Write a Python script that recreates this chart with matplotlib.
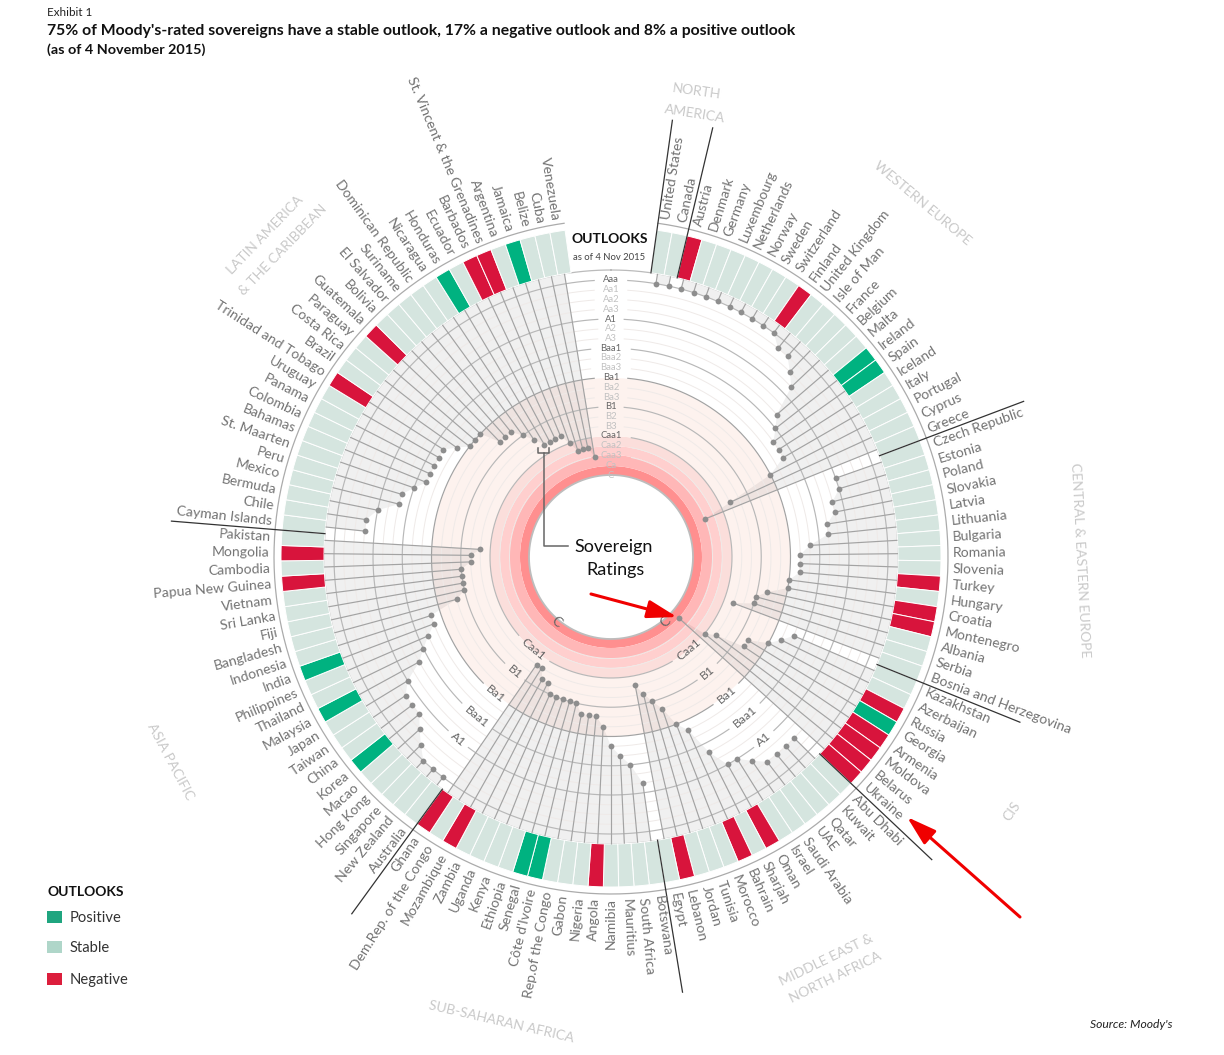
import numpy as np
import matplotlib
matplotlib.use('Agg')
import matplotlib.pyplot as plt
from matplotlib.patches import FancyArrowPatch, Rectangle
from matplotlib.lines import Line2D

# regions, clockwise from the top
north_america = ['United States', 'Canada']
western_europe = ['Austria', 'Denmark', 'Germany', 'Luxembourg', 'Netherlands', 'Norway', 'Sweden',
                  'Switzerland', 'Finland', 'United Kingdom', 'Isle of Man', 'France', 'Belgium', 'Malta',
                  'Ireland', 'Spain', 'Iceland', 'Italy', 'Portugal', 'Cyprus', 'Greece']
eastern_europe = ['Czech Republic', 'Estonia', 'Poland', 'Slovakia', 'Latvia', 'Lithuania', 'Bulgaria',
                  'Romania', 'Slovenia', 'Turkey', 'Hungary', 'Croatia', 'Montenegro', 'Albania', 'Serbia',
                  'Bosnia and Herzegovina']
cis = ['Kazakhstan', 'Azerbaijan', 'Russia', 'Georgia', 'Armenia', 'Moldova', 'Belarus', 'Ukraine']
mena = ['Abu Dhabi', 'Kuwait', 'Qatar', 'UAE', 'Saudi Arabia', 'Israel', 'Oman', 'Sharjah', 'Bahrain',
        'Morocco', 'Tunisia', 'Jordan', 'Lebanon', 'Egypt']
africa = ['Botswana', 'South Africa', 'Mauritius', 'Namibia', 'Angola', 'Nigeria', 'Gabon',
          'Rep.of the Congo', "Côte d'Ivoire", 'Senegal', 'Ethiopia', 'Kenya', 'Uganda', 'Zambia',
          'Mozambique', 'Dem.Rep. of the Congo', 'Ghana']
asia = ['Australia', 'New Zealand', 'Singapore', 'Hong Kong', 'Macao', 'Korea', 'China', 'Taiwan', 'Japan',
        'Malaysia', 'Thailand', 'Philippines', 'India', 'Indonesia', 'Bangladesh', 'Fiji', 'Sri Lanka',
        'Vietnam', 'Papua New Guinea', 'Cambodia', 'Mongolia', 'Pakistan']
latam = ['Cayman Islands', 'Chile', 'Bermuda', 'Mexico', 'Peru', 'St. Maarten', 'Bahamas', 'Colombia',
         'Panama', 'Uruguay', 'Trinidad and Tobago', 'Brazil', 'Costa Rica', 'Paraguay', 'Guatemala',
         'Bolivia', 'El Salvador', 'Suriname', 'Dominican Republic', 'Nicaragua', 'Honduras', 'Ecuador',
         'Barbados', 'St. Vincent & the Grenadines', 'Argentina', 'Jamaica', 'Belize', 'Cuba', 'Venezuela']

north_america_r = [20, 20]
western_europe_r = [20, 20, 20, 20, 20, 20, 20, 20, 20, 19, 19, 18, 17, 14, 13, 12, 12, 12, 10, 5, 2]
eastern_europe_r = [16, 16, 15, 15, 14, 14, 12, 11, 11, 11, 10, 10, 8, 7, 7, 5]
cis_r = [12, 11, 10, 8, 8, 5, 4, 1]
mena_r = [18, 18, 18, 18, 17, 16, 16, 14, 11, 10, 8, 7, 6, 5]
africa_r = [15, 13, 12, 11, 9, 8, 8, 8, 7, 7, 7, 7, 7, 6, 6, 5, 5]
asia_r = [20, 20, 20, 19, 18, 17, 17, 17, 16, 14, 13, 12, 11, 11, 8, 7, 7, 7, 7, 6, 6, 5]
latam_r = [17, 17, 16, 14, 14, 13, 12, 12, 12, 12, 12, 11, 10, 10, 10, 8, 8, 8, 7, 6, 5, 5, 5, 5, 4, 3, 3, 3, 2]

regions = [north_america, western_europe, eastern_europe, cis, mena, africa, asia, latam]
region_ratings = [north_america_r, western_europe_r, eastern_europe_r, cis_r, mena_r, africa_r, asia_r, latam_r]

negative = ['Austria', 'Finland', 'Turkey', 'Croatia', 'Montenegro', 'Russia', 'Armenia', 'Moldova', 'Belarus',
            'Ukraine', 'Oman', 'Bahrain', 'Lebanon', 'Angola', 'Mozambique', 'Ghana', 'Papua New Guinea',
            'Mongolia', 'Trinidad and Tobago', 'Guatemala', 'Barbados', 'St. Vincent & the Grenadines']
positive = ['Ireland', 'Spain', 'Georgia', "Côte d'Ivoire", 'Senegal', 'Korea', 'Malaysia', 'India',
            'Honduras', 'Jamaica']

rating_labels = ['C', 'Ca', 'Caa3', 'Caa2', 'Caa1', 'B3', 'B2', 'B1', 'Ba3', 'Ba2', 'Ba1', 'Baa3', 'Baa2',
                 'Baa1', 'A3', 'A2', 'A1', 'Aa3', 'Aa2', 'Aa1', 'Aaa']
major_ratings = ['Caa1', 'B1', 'Ba1', 'Baa1', 'A1', 'Aaa']
side_ratings = ['Caa1', 'B1', 'Ba1', 'Baa1', 'A1']

W, H = 1224, 1055
CX, CY = 611, 557
R = 520
STEP = 360 / 135
START = 8


def rr(n):
    return 82 + 9.75 * np.asarray(n, dtype=float)


def fx(x):
    return x / W


def fy(y):
    return 1 - y / H


fig = plt.figure(figsize=(W / 100, H / 100), dpi=100, facecolor='white')
plt.rcParams['font.family'] = ['Lato', 'DejaVu Sans']
ax = fig.add_axes([(CX - R) / W, (H - CY - R) / H, 2 * R / W, 2 * R / H], projection='polar')
ax.set_theta_zero_location('N')
ax.set_theta_direction(-1)
ax.set_rlim(0, R)
ax.axis('off')

# pink rings
band_edges = [82, 91, 102, 111, 121, 179]
band_colors = ['#FF8F8F', '#FFB7B7', '#FFCFCE', '#FBDEDB', '#FDF2EE']
for i, c in enumerate(band_colors):
    ax.bar(0, band_edges[i + 1] - band_edges[i], width=2 * np.pi, bottom=band_edges[i], color=c, lw=0, zorder=1)

slot = 0
names, thetas = [], []
for reg, vals in zip(regions, region_ratings):
    th = np.radians(START + (slot + 0.5 + np.arange(len(reg))) * STEP)
    r = rr(vals)
    # grey area under the dots of one region
    back = np.linspace(th[-1], th[0], 40)
    ax.fill(np.r_[th, back], np.r_[r, np.full(40, 287)], color='black', alpha=0.06, lw=0, zorder=2)
    ax.vlines(th, r, 287, color='#A3A3A3', lw=0.85, zorder=4)
    ax.plot(th, r, 'o', color='#8E8E8E', ms=4.2, mew=0, zorder=5)
    # region divider
    edge = np.radians(START + slot * STEP)
    ax.plot([edge, edge], [287, 441], color='#333333', lw=0.9, zorder=6)
    names += reg
    thetas += list(th)
    slot += len(reg)


def arc(r, gaps, **kw):
    # ring broken where labels sit, gaps = (centre deg, half width px)
    spans = sorted((a - np.degrees(g / r), a + np.degrees(g / r)) for a, g in gaps)
    cur = spans[0][1]
    for lo, hi in spans[1:] + [(spans[0][0] + 360, 0)]:
        ax.plot(np.radians(np.linspace(cur, lo, 300)), np.full(300, r), **kw)
        cur = hi


for n, lab in enumerate(rating_labels):
    major = lab in major_ratings
    r = rr(n)
    if n >= 2:
        half = 6 + 3.6 * len(lab)
        gaps = [(0, half)]
        if lab in side_ratings:
            gaps += [(140, half), (220, half)]
        if lab == 'Ba1':
            col = '#A2A2A2'
        elif major:
            col = '#B8B8B8'
        else:
            col = '#EFEAE8'
        arc(r, gaps, color=col, lw=0.85 if major else 0.7, zorder=3)
    ax.text(0, r, lab, ha='center', va='center', fontsize=6.8, color='#666666' if major else '#C2C2C2', zorder=7)
    if lab in side_ratings or lab == 'C':
        off = 3 if lab == 'C' else 0
        fs = 10 if lab == 'C' else 8.8
        ax.text(np.radians(140), r + off, lab, rotation=40, ha='center', va='center',
                rotation_mode='anchor', fontsize=fs, color='#666666', zorder=7)
        ax.text(np.radians(220), r + off, lab, rotation=-40, ha='center', va='center',
                rotation_mode='anchor', fontsize=fs, color='#666666', zorder=7)

ring = np.linspace(0, 2 * np.pi, 720)
ax.plot(ring, np.full(720, 82), color='#BDBDBD', lw=1.3, zorder=3)
ax.plot(ring, np.full(720, 287), color='#BBBBBB', lw=0.9, zorder=3)
outer = np.radians(np.linspace(START, 360 - START, 600))
ax.plot(outer, np.full(600, 337), color='#ABABAB', lw=0.9, zorder=3)

# outlook bars
colors = ['#D8143C' if c in negative else '#00B280' if c in positive else '#D5E5DF' for c in names]
ax.bar(thetas, 43, width=np.radians(STEP), bottom=287, color=colors, edgecolor='white', lw=0.7, zorder=3)
ax.set_rlim(0, R)

# country names
for name, th in zip(names, thetas):
    deg = np.degrees(th)
    if deg < 180:
        ax.text(th, 342, name, rotation=90 - deg, rotation_mode='anchor', ha='left', va='center',
                fontsize=10.1, color='#737373', zorder=7)
    else:
        ax.text(th, 341, name, rotation=270 - deg, rotation_mode='anchor', ha='right', va='center',
                fontsize=10.1, color='#737373', zorder=7)

# region names
region_text = [('NORTH', 697, 91, -8), ('AMERICA', 695, 114, -9), ('WESTERN EUROPE', 922, 203, -40),
               ('CENTRAL & EASTERN EUROPE', 1080, 560, -87), ('CIS', 1012, 811, 55),
               ('MIDDLE EAST &', 826, 960, 26), ('NORTH AFRICA', 835, 977, 26),
               ('SUB-SAHARAN AFRICA', 501, 1022, -13), ('ASIA PACIFIC', 170, 762, -62),
               ('LATIN AMERICA', 265, 235, 46), ('& THE CARIBBEAN', 283, 250, 46)]
for t, x, y, rot in region_text:
    fig.text(fx(x), fy(y), t, rotation=rot, rotation_mode='anchor', ha='center', va='center',
             fontsize=10, color='#C9C9C9')

fig.text(fx(610), fy(239), 'OUTLOOKS', ha='center', va='center', fontsize=10, fontweight='bold', color='#111111')
fig.text(fx(609), fy(257), 'as of 4 Nov 2015', ha='center', va='center', fontsize=6.8, color='#444444')

# centre note and bracket
for xs, ys in [([538, 538, 549, 549], [448, 453, 453, 448]), ([543.5, 543.5, 568], [453, 546, 546])]:
    fig.add_artist(Line2D([fx(v) for v in xs], [fy(v) for v in ys], color='#666666', lw=1.1))
fig.text(fx(614), fy(547), 'Sovereign', ha='center', va='center', fontsize=13, color='#111111')
fig.text(fx(616), fy(570), 'Ratings', ha='center', va='center', fontsize=13, color='#111111')

# red arrows
for p0, p1 in [((591, 594), (677, 617)), ((1020, 917), (907, 817))]:
    fig.add_artist(FancyArrowPatch((fx(p0[0]), fy(p0[1])), (fx(p1[0]), fy(p1[1])), transform=fig.transFigure,
                                   arrowstyle='-|>,head_length=18,head_width=5.5', color='#F00000', lw=2.2,
                                   shrinkA=0, shrinkB=0, zorder=20))

# heading
fig.text(fx(47), fy(12), 'Exhibit 1', va='center', fontsize=8.4, color='#222222')
fig.text(fx(47), fy(31), "75% of Moody's-rated sovereigns have a stable outlook, 17% a negative outlook and 8% a positive outlook",
         va='center', fontsize=11.3, fontweight='bold', color='#111111')
fig.text(fx(47), fy(50), '(as of 4 November 2015)', va='center', fontsize=10.4, fontweight='bold', color='#111111')
fig.text(fx(1173), fy(1024), "Source: Moody's", ha='right', va='center', fontsize=8.7, style='italic', color='#222222')

# legend
legend_labels = ['Positive', 'Stable', 'Negative']
legend_colors = ['#1FA57F', '#AFD6C9', '#DC1E3C']
legend_y = [917, 947, 979]
fig.text(fx(47), fy(892), 'OUTLOOKS', va='center', fontsize=10, fontweight='bold', color='#111111')
for lab, c, y in zip(legend_labels, legend_colors, legend_y):
    fig.add_artist(Rectangle((fx(47), fy(y + 6)), 15 / W, 12 / H, transform=fig.transFigure, color=c, lw=0))
    fig.text(fx(70), fy(y + 1), lab, va='center', fontsize=10.6, color='#333333')

fig.savefig('out.png', dpi=100)
